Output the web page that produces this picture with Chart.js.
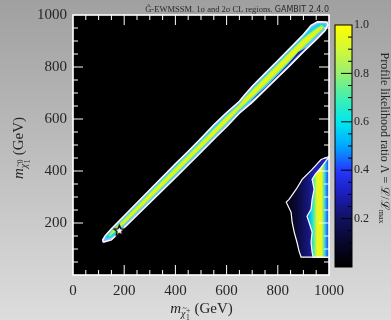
<!DOCTYPE html>
<html lang="en">
<head>
  <meta charset="UTF-8">
  <title>Chargino vs neutralino mass - profile likelihood</title>
  <script src="https://cdn.jsdelivr.net/npm/chart.js"></script>
  <style>
    * { margin: 0; padding: 0; box-sizing: border-box; }
    body {
      width: 391px;
      height: 320px;
      overflow: hidden;
      position: relative;
      background: linear-gradient(180deg, #a0a0a0 0%, #dddddd 100%);
    }
    #main { position: absolute; left: 0; top: 0; }
    #cbar { position: absolute; left: 320px; top: 0; }
  </style>
</head>
<body>
  <canvas id="main" width="391" height="320"></canvas>
  <canvas id="cbar" width="71" height="320"></canvas>

  <script>
    // ---- data (GeV) ----
    const xTickValues = [0, 200, 400, 600, 800, 1000];
    const yTickValues = [200, 400, 600, 800, 1000];
    const minorTickValues = [50, 100, 150, 250, 300, 350, 450, 500, 550, 650, 700, 750, 850, 900, 950];

    // diagonal band: 2 sigma contour, cyan layer, yellow core
    const bandOuterX = [118, 150, 200, 300, 400, 500, 560, 600, 650, 700, 750, 800, 850, 900, 950, 985, 996, 992, 955, 930, 900, 850, 800, 750, 700, 670, 650, 600, 550, 500, 450, 400, 300, 200, 150, 125, 116, 118];
    const bandOuterY = [126, 135, 182, 278, 374, 472, 532, 570, 622, 664, 712, 760, 808, 858, 905, 940, 962, 973, 974, 960, 925, 875, 825, 776, 726, 692, 668, 625, 578, 526, 476, 428, 328, 228, 178, 150, 135, 126];

    const bandMidX = [128, 160, 200, 300, 400, 500, 560, 600, 650, 700, 750, 800, 850, 900, 950, 980, 988, 985, 960, 930, 900, 850, 800, 750, 700, 670, 650, 600, 550, 500, 450, 400, 300, 200, 150, 128, 128];
    const bandMidY = [138, 150, 192, 288, 384, 482, 542, 580, 632, 676, 724, 772, 820, 870, 917, 947, 962, 966, 966, 950, 916, 866, 816, 767, 717, 684, 659, 616, 569, 517, 467, 419, 319, 219, 169, 148, 138];

    const bandCoreX = [142, 200, 300, 400, 500, 600, 650, 700, 800, 900, 950, 978, 972, 950, 900, 800, 700, 670, 650, 600, 500, 400, 300, 200, 150, 142];
    const bandCoreY = [150, 197, 293, 390, 488, 586, 638, 684, 780, 878, 924, 950, 959, 947, 909, 810, 710, 680, 654, 610, 510, 412, 314, 214, 165, 150];

    // dark blue fringes on the lower edge of the band
    const fringeAX = [690, 720, 760, 800, 840, 880, 910, 880, 840, 800, 760, 720, 690];
    const fringeAY = [664, 690, 728, 766, 806, 846, 874, 858, 812, 770, 730, 694, 664];

    // region at high chargino mass: 2 sigma and 1 sigma contours
    const blobOuterX = [1000, 969, 934, 895, 872, 844, 833, 852, 856, 864, 875, 883, 891, 1000];
    const blobOuterY = [456, 444, 406, 368, 330, 291, 280, 241, 203, 165, 126, 92, 69, 69];

    const blobInnerX = [1000, 992, 969, 946, 934, 942, 934, 930, 914, 922, 934, 930, 934, 938, 1000];
    const blobInnerY = [452, 444, 414, 387, 368, 330, 291, 253, 226, 203, 165, 126, 88, 69, 69];

    // best fit point
    const bestFitX = [181];
    const bestFitY = [172];

    // colour bar
    const cbarStops = [0, 0.1, 0.2, 0.3, 0.4, 0.45, 0.5, 0.6, 0.7, 0.8, 0.9, 1.0];
    const cbarColors = ['#000000', '#07072a', '#111160', '#1c1cb8', '#2438ff', '#1470ff', '#00a8ff', '#00e8ee', '#40f0b0', '#98f070', '#d4f838', '#ffff00'];
    const cbarMajor = [0.2, 0.4, 0.6, 0.8];
    const cbarMinor = [0.05, 0.1, 0.15, 0.25, 0.3, 0.35, 0.45, 0.5, 0.55, 0.65, 0.7, 0.75, 0.85, 0.9, 0.95];

    const serif = '"Liberation Serif", "DejaVu Serif", serif';
    const textColor = '#262626';

    const pts = (xs, ys) => xs.map((x, i) => ({ x: x, y: ys[i] }));

    function makeStar(r) {
      const c = document.createElement('canvas');
      const s = Math.ceil(r * 2 + 4);
      c.width = s; c.height = s;
      const g = c.getContext('2d');
      g.translate(s / 2, s / 2 + 0.5);
      g.beginPath();
      for (let i = 0; i < 10; i++) {
        const a = -Math.PI / 2 + i * Math.PI / 5;
        const rr = i % 2 ? r * 0.45 : r;
        g.lineTo(rr * Math.cos(a), rr * Math.sin(a));
      }
      g.closePath();
      g.fillStyle = '#ffffff';
      g.fill();
      g.lineWidth = 1.3;
      g.strokeStyle = '#000000';
      g.stroke();
      return c;
    }

    // horizontal gradient in data units, built from the chart's x scale
    function xGradient(chart, x0, x1, stops) {
      const area = chart.chartArea;
      if (!area) return stops[0][1];
      const sx = chart.scales.x;
      const g = chart.ctx.createLinearGradient(sx.getPixelForValue(x0), 0, sx.getPixelForValue(x1), 0);
      stops.forEach(s => g.addColorStop(s[0], s[1]));
      return g;
    }

    const shape = {
      showLine: true, pointRadius: 0, tension: 0, fill: 'shape', borderWidth: 0, borderColor: 'rgba(0,0,0,0)'
    };

    // inward ticks on all four sides
    function drawTicks(ctx, scale, values, len, horizontal, area) {
      values.forEach(v => {
        const p = scale.getPixelForValue(v);
        ctx.beginPath();
        if (horizontal) {
          ctx.moveTo(p, area.bottom); ctx.lineTo(p, area.bottom - len);
          ctx.moveTo(p, area.top); ctx.lineTo(p, area.top + len);
        } else {
          ctx.moveTo(area.left, p); ctx.lineTo(area.left + len, p);
          ctx.moveTo(area.right, p); ctx.lineTo(area.right - len, p);
        }
        ctx.stroke();
      });
    }

    function massLabel(ctx, x, y, sup, rotate) {
      ctx.save();
      ctx.translate(x, y);
      if (rotate) ctx.rotate(-Math.PI / 2);
      const fM = 'italic 15px ' + serif;
      const fS = 'italic 10px ' + serif;
      const fT = '7.5px ' + serif;
      const fU = '15px ' + serif;
      ctx.font = fM; const wm = ctx.measureText('m').width;
      ctx.font = fS; const wc = ctx.measureText('\u03c7').width;
      ctx.font = fT; const ws = Math.max(ctx.measureText(sup).width, ctx.measureText('1').width);
      ctx.font = fU; const wg = ctx.measureText(' (GeV)').width;
      let cx = -(wm + wc + ws + 1 + wg) / 2;
      ctx.fillStyle = textColor;
      ctx.textAlign = 'left';
      ctx.textBaseline = 'alphabetic';
      ctx.font = fM; ctx.fillText('m', cx, 5); cx += wm;
      ctx.font = fS; ctx.fillText('\u03c7', cx, 9);
      ctx.font = '8px ' + serif; ctx.fillText('~', cx + 1.5, 3);
      cx += wc + 0.5;
      ctx.font = fT; ctx.fillText(sup, cx, 5); ctx.fillText('1', cx, 12);
      cx += ws + 0.5;
      ctx.font = fU; ctx.fillText(' (GeV)', cx, 5);
      ctx.restore();
    }

    const mainDecor = {
      id: 'mainDecor',
      beforeDatasetsDraw(chart) {
        const { ctx, chartArea: a } = chart;
        ctx.save();
        ctx.fillStyle = '#000000';
        ctx.fillRect(a.left, a.top, a.right - a.left, a.bottom - a.top);
        ctx.restore();
      },
      afterDraw(chart) {
        const { ctx, chartArea: a, scales } = chart;
        ctx.save();
        ctx.strokeStyle = '#ffffff';
        ctx.lineWidth = 1;
        drawTicks(ctx, scales.x, xTickValues.slice(1, -1), 10, true, a);
        drawTicks(ctx, scales.x, minorTickValues, 5, true, a);
        drawTicks(ctx, scales.y, yTickValues.slice(0, -1), 10, false, a);
        drawTicks(ctx, scales.y, minorTickValues, 5, false, a);
        ctx.lineWidth = 1.6;
        ctx.strokeRect(a.left, a.top, a.right - a.left, a.bottom - a.top);

        // title
        ctx.textBaseline = 'alphabetic';
        ctx.textAlign = 'right';
        ctx.fillStyle = '#2a2a2a';
        ctx.font = '8px "DejaVu Sans", sans-serif';
        const gam = 'GAMBIT 2.4.0';
        const gw = ctx.measureText(gam).width;
        ctx.fillText(gam, a.right, 12);
        ctx.font = '8.5px ' + serif;
        ctx.fillText('G\u0303-EWMSSM. 1\u03c3 and 2\u03c3 CL regions. ', a.right - gw, 12);

        massLabel(ctx, (a.left + a.right) / 2 + 0.5, 308, '+', false);
        massLabel(ctx, 18, (a.top + a.bottom) / 2 + 3, '0', true);
        ctx.restore();
      }
    };

    new Chart(document.getElementById('main'), {
      type: 'line',
      data: {
        datasets: [
          { label: 'best fit', data: pts(bestFitX, bestFitY), showLine: false, pointStyle: makeStar(5.5), pointRadius: 6 },
          Object.assign({ label: 'band fringe', data: pts(fringeAX, fringeAY), backgroundColor: '#1c1c9c' }, shape),
          Object.assign({ label: 'band core', data: pts(bandCoreX, bandCoreY), backgroundColor: '#e4f41c' }, shape, { borderWidth: 1.2, borderColor: '#9cf060' }),
          Object.assign({ label: 'band mid', data: pts(bandMidX, bandMidY), backgroundColor: '#10d8ea' }, shape),
          Object.assign({ label: 'band 2 sigma', data: pts(bandOuterX, bandOuterY), backgroundColor: '#8cb8ff' }, shape, { borderWidth: 1.5, borderColor: '#ffffff' }),
          Object.assign({
            label: 'high mass 1 sigma', data: pts(blobInnerX, blobInnerY),
            backgroundColor: c => xGradient(c.chart, 910, 1000, [[0, '#1a60ff'], [0.2, '#00c8f4'], [0.36, '#60ee9c'], [0.48, '#eaf820'], [0.68, '#f0f41c'], [0.8, '#40e0d0'], [0.92, '#1a70ff'], [1, '#3050ff']])
          }, shape, { borderWidth: 1.2, borderColor: '#ffffff' }),
          Object.assign({
            label: 'high mass 2 sigma', data: pts(blobOuterX, blobOuterY),
            backgroundColor: c => xGradient(c.chart, 835, 940, [[0, '#02020c'], [0.4, '#0a0a3c'], [0.8, '#16167c'], [1, '#2020b0']])
          }, shape, { borderWidth: 1.2, borderColor: '#ffffff' })
        ]
      },
      options: {
        responsive: false,
        animation: false,
        events: [],
        layout: { padding: { left: 0, right: 62, top: 15, bottom: 0 } },
        plugins: { legend: { display: false }, tooltip: { enabled: false } },
        scales: {
          x: {
            type: 'linear', min: 0, max: 1000,
            grid: { display: false, drawTicks: false },
            border: { display: false },
            ticks: { stepSize: 200, color: textColor, font: { family: serif, size: 15 }, padding: 7, maxRotation: 0,
              callback: v => String(v) },
            afterFit(s) { s.height = 45; }
          },
          y: {
            type: 'linear', min: 0, max: 1000,
            grid: { display: false, drawTicks: false },
            border: { display: false },
            ticks: { stepSize: 200, color: textColor, font: { family: serif, size: 15 }, padding: 6,
              callback: v => (v === 0 ? '' : String(v)) },
            afterFit(s) { s.width = 73; }
          }
        }
      },
      plugins: [mainDecor]
    });

    // ---- colour bar ----
    const cbarDecor = {
      id: 'cbarDecor',
      afterDraw(chart) {
        const { ctx, chartArea: a, scales } = chart;
        ctx.save();
        ctx.strokeStyle = '#000000';
        ctx.lineWidth = 1;
        const tick = (v, len) => {
          const p = scales.y.getPixelForValue(v);
          ctx.beginPath(); ctx.moveTo(a.right, p); ctx.lineTo(a.right - len, p); ctx.stroke();
        };
        cbarMajor.forEach(v => tick(v, 11));
        cbarMinor.forEach(v => tick(v, 4));
        ctx.strokeRect(a.left, a.top, a.right - a.left, a.bottom - a.top);

        ctx.translate(64, (a.top + a.bottom) / 2 - 8);
        ctx.rotate(Math.PI / 2);
        ctx.fillStyle = textColor;
        ctx.textBaseline = 'middle';
        ctx.textAlign = 'left';
        const head = 'Profile likelihood ratio \u039b = ';
        const lcal = '\u2112';
        const f12 = '12px ' + serif;
        const fL = '12px "DejaVu Serif", serif';
        const f8 = '8px ' + serif;
        ctx.font = f12; const wh = ctx.measureText(head).width; const wsl = ctx.measureText('/').width;
        ctx.font = fL; const wl = ctx.measureText(lcal).width;
        ctx.font = f8; const ws = ctx.measureText('max').width;
        let x0 = -(wh + 2 * wl + wsl + ws) / 2;
        ctx.font = f12; ctx.fillText(head, x0, 0); x0 += wh;
        ctx.font = fL; ctx.fillText(lcal, x0, 0); x0 += wl;
        ctx.font = f12; ctx.fillText('/', x0, 0); x0 += wsl;
        ctx.font = fL; ctx.fillText(lcal, x0, 0); x0 += wl;
        ctx.font = f8; ctx.fillText('max', x0, 3);
        ctx.restore();
      }
    };

    new Chart(document.getElementById('cbar'), {
      type: 'bar',
      data: {
        labels: [''],
        datasets: [{
          data: [[0, 1]],
          borderWidth: 0,
          barPercentage: 1,
          categoryPercentage: 1,
          backgroundColor: c => {
            const chart = c.chart;
            if (!chart.chartArea) return '#000';
            const sy = chart.scales.y;
            const g = chart.ctx.createLinearGradient(0, sy.getPixelForValue(0), 0, sy.getPixelForValue(1));
            cbarStops.forEach((s, i) => g.addColorStop(s, cbarColors[i]));
            return g;
          }
        }]
      },
      options: {
        responsive: false,
        animation: false,
        events: [],
        layout: { padding: { left: 15, right: 0, top: 25, bottom: 53 } },
        plugins: { legend: { display: false }, tooltip: { enabled: false } },
        scales: {
          x: { display: false },
          y: {
            position: 'right', min: 0, max: 1,
            grid: { display: false, drawTicks: false },
            border: { display: false },
            ticks: { stepSize: 0.2, color: textColor, font: { family: serif, size: 12 }, padding: 2,
              callback: v => (v === 0 ? '' : v.toFixed(1)) },
            afterFit(s) { s.width = 39; }
          }
        }
      },
      plugins: [cbarDecor]
    });
  </script>
</body>
</html>
